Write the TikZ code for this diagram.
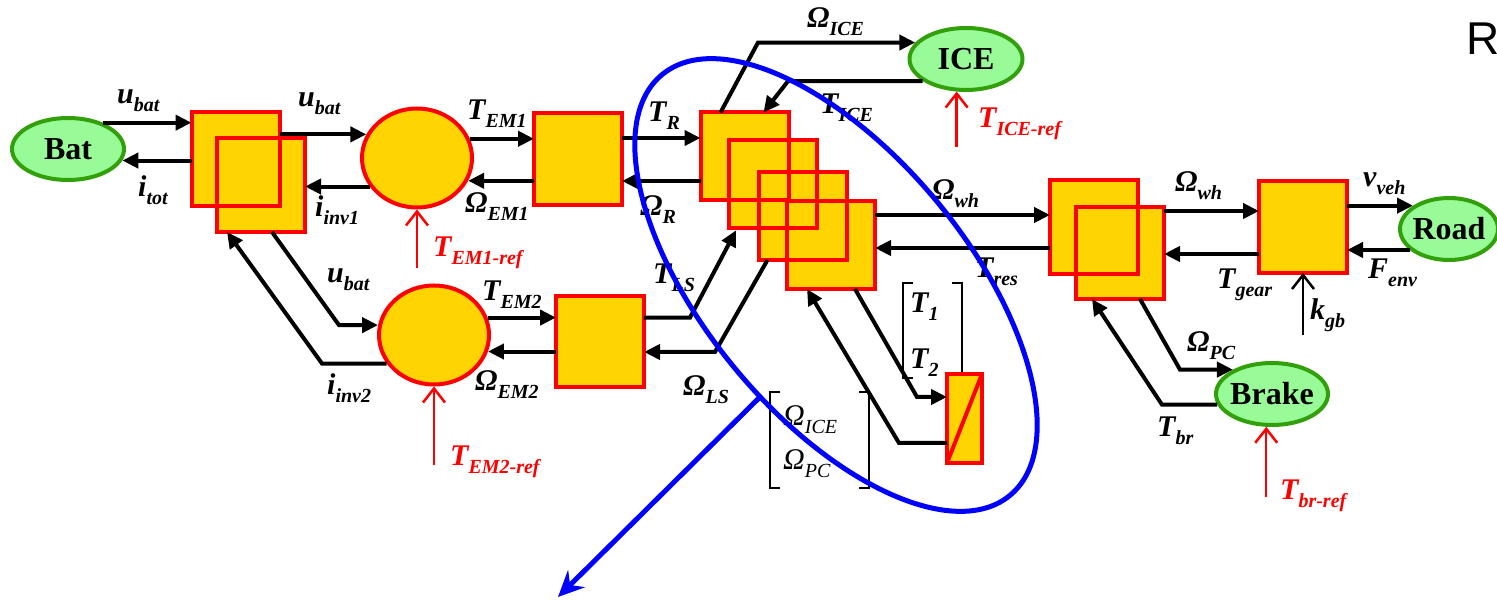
\documentclass[tikz,border=0pt]{standalone}
\usepackage{fontspec}
\setmainfont{Liberation Serif}
\newfontfamily\sansR{Liberation Sans}
\usetikzlibrary{arrows.meta,shapes.geometric,calc}
\definecolor{boxfill}{RGB}{255,212,0}
\definecolor{elfill}{RGB}{152,251,152}
\definecolor{elline}{RGB}{50,160,10}
\newcommand{\lb}[2]{#1\raisebox{-8pt}{\fontsize{20}{20}\selectfont #2}}
\begin{document}
\begin{tikzpicture}[x=1pt,y=-1pt,
  sq/.style={rectangle, fill=boxfill, inner sep=0pt, outer sep=0pt, minimum width=88pt, minimum height=92pt},
  cir/.style={ellipse, fill=boxfill, draw=red, line width=4pt, inner sep=0pt, minimum width=110pt, minimum height=99pt},
  oval/.style={ellipse, fill=elfill, draw=elline, line width=4pt, inner sep=0pt, minimum width=112pt, minimum height=62pt},
  ovtext/.style={font=\fontsize{32}{32}\selectfont\bfseries, inner sep=0pt},
  arr/.style={line width=4pt, -{Triangle[length=16pt,width=15pt]}},
  ref/.style={red, line width=2.5pt, -{Straight Barb[length=14pt,width=22pt]}},
  kref/.style={black, line width=2.5pt, -{Straight Barb[length=14pt,width=22pt]}},
  lab/.style={font=\fontsize{30}{30}\selectfont\bfseries\itshape, inner sep=0pt, anchor=west},
  rlab/.style={lab, text=red},
  mlab/.style={font=\fontsize{30}{30}\selectfont\itshape, inner sep=0pt, anchor=west},
  brk/.style={line width=1.6pt},
  redline/.style={draw=red, line width=4pt},
]
\useasboundingbox (0,0) rectangle (1497,601);

% ---------- square blocks (fills) ----------
\node[sq, minimum height=94pt] (b1a) at (235.5,159) {};
\node[sq, minimum height=94pt] (b1b) at (261,185) {};
\node[sq] (bem1) at (578,159) {};
\node[sq, minimum height=91pt] (bem2) at (600,341.5) {};
\node[sq, minimum height=88pt] (pg1) at (744.5,156.5) {};
\node[sq, minimum height=88pt] (pg2) at (773,184.5) {};
\node[sq, minimum height=88pt] (pg3) at (802.5,216) {};
\node[sq, minimum height=88pt] (pg4) at (831,245) {};
\node[sq, minimum height=94pt] (fda) at (1094,227) {};
\node[sq] (fdb) at (1120,253) {};
\node[sq] (gb) at (1303,227) {};
% borders on top of all fills
\foreach \n in {b1a,b1b,bem1,bem2,pg1,pg2,pg3,pg4,fda,fdb,gb}
  \draw[redline] (\n.south west) rectangle (\n.north east);

% ---------- electric machines ----------
\node[cir] (em1) at (417,158) {};
\node[cir] (em2) at (434,335) {};

% ---------- sources ----------
\node[oval] (bat) at (68,149) {};
\node[ovtext] at (bat) {Bat};
\node[oval, minimum width=113pt] (ice) at (966,59) {};
\node[ovtext] at (ice) {ICE};
\node[oval, minimum width=98pt] (road) at (1449,229) {};
\node[ovtext] at (road) {Road};
\node[oval] (brake) at (1272,394) {};
\node[ovtext] at (brake) {Brake};

% ---------- brackets ----------
\draw[brk] (913,283) -- (903,283) -- (903,378) -- (913,378);
\draw[brk] (952,283) -- (962,283) -- (962,376);
\draw[brk] (780,392) -- (770,392) -- (770,488) -- (780,488);
\draw[brk] (859,392) -- (869,392) -- (869,488) -- (859,488);

% ---------- clutch ----------
\node[sq, minimum width=35pt, minimum height=89pt] (cl) at (964.5,418.5) {};
\draw[redline] (cl.south west) rectangle (cl.north east);
\draw[redline] (cl.south west) -- (cl.north east);

% ---------- connectors ----------
\draw[arr] (bat.37) -- (bat.37 -| b1a.west);
\draw[arr] (b1a.west |- bat.-12) -- (bat.-12);
\draw[arr] (em1.155 -| b1a.east) -- (em1.155);
\draw[arr] (em1.211) -- (em1.211 -| b1b.east);
\draw[arr] (em1.20) -- (em1.20 -| bem1.west);
\draw[arr] (bem1.west |- em1.-24) -- (em1.-24);
\draw[arr] (bem1.east |- 0,138) -- (pg1.west |- 0,138);
\draw[arr] (pg1.west |- 0,181) -- (bem1.east |- 0,181);
\draw[arr] ([xshift=11pt]b1b.south) -- (em2.170 -| 339,0) -- (em2.170);
\draw[arr] (em2.211) -- (em2.211 -| 322,0) -- ([xshift=-34pt]b1b.south);
\draw[arr] (em2.18) -- (em2.18 -| bem2.west);
\draw[arr] (bem2.west |- em2.-17) -- (em2.-17);
\draw[arr, shorten >=2pt] (bem2.east |- em2.18) -- (em2.18 -| 690,0) -- ([xshift=8pt]pg2.south west);
\draw[arr] ([xshift=9pt]pg3.south west) -- (715,352) -- (bem2.east |- 0,352);
\draw[arr] ([xshift=-24pt]pg1.north) -- (ice.162 -| 758,0) -- (ice.162);
\draw[arr] (ice.207) -- (ice.207 -| 788,0) -- ([xshift=19pt]pg1.north);
\draw[arr] (pg4.east |- 0,215) -- (fda.west |- 0,215);
\draw[arr] (fda.west |- 0,248) -- (pg4.east |- 0,248);
\draw[arr] ([xshift=24pt]pg4.south) -- (917,397) -- (cl.west |- 0,397);
\draw[arr] (cl.west |- 0,443) -- (899,443) -- ([xshift=-24pt]pg4.south);
\draw[arr] (fdb.east |- 0,211) -- (gb.west |- 0,211);
\draw[arr] (gb.west |- 0,254) -- (fdb.east |- 0,254);
\draw[arr] (gb.east |- road.147) -- (road.147);
\draw[arr] (road.208) -- (road.208 -| gb.east);
\draw[arr] ([xshift=20pt]fdb.south) -- (brake.148 -| 1180,0) -- (brake.148);
\draw[arr] (brake.191) -- (brake.191 -| 1162,0) -- ([xshift=-28pt]fdb.south);
\draw[kref] (gb.south |- 0,335) -- (gb.south);

% ---------- reference inputs ----------
\draw[ref] (em1.south |- 0,268) -- (em1.south);
\draw[ref] (em2.south |- 0,465) -- (em2.south);
\draw[ref] (ice.-106 |- 0,147) -- (ice.-106);
\draw[ref] (brake.-100 |- 0,497) -- (brake.-100);

% ---------- labels ----------
\node[lab] (l1) at (117,101) {\lb{u}{bat}};
\node[lab] (l2) at (138,190) {\lb{i}{tot}};
\node[lab] (l3) at (298,104) {\lb{u}{bat}};
\node[lab] (l4) at (315,210) {\lb{i}{inv1}};
\node[lab] (l5) at (467,114) {\lb{T}{EM1}};
\node[lab] (l6) at (465,207) {\lb{Ω}{EM1}};
\node[rlab] (l7) at (433,253) {\lb{T}{EM1-ref}};
\node[lab] (l8) at (648,116) {\lb{T}{R}};
\node[lab] (l9) at (640,210) {\lb{Ω}{R}};
\node[lab] (l10) at (327,280) {\lb{u}{bat}};
\node[lab] (l11) at (482,295) {\lb{T}{EM2}};
\node[lab] (l12) at (475,385) {\lb{Ω}{EM2}};
\node[lab] (l13) at (327,388) {\lb{i}{inv2}};
\node[rlab] (l14) at (450,462) {\lb{T}{EM2-ref}};
\node[lab] (l15) at (653,278) {\lb{T}{LS}};
\node[lab] (l16) at (683,390) {\lb{Ω}{LS}};
\node[lab] (l17) at (807,22) {\lb{Ω}{ICE}};
\node[lab] (l18) at (820,108) {\lb{T}{ICE}};
\node[rlab] (l19) at (978,124) {\lb{T}{ICE-ref}};
\node[lab] (l20) at (932,194) {\lb{Ω}{wh}};
\node[lab] (l21) at (975,272) {\lb{T}{res}};
\node[lab] (l22) at (910,307) {\lb{T}{1}};
\node[lab] (l23) at (910,363) {\lb{T}{2}};
\node[mlab] (l24) at (783,420) {\lb{Ω}{ICE}};
\node[mlab] (l25) at (783,464) {\lb{Ω}{PC}};
\node[lab] (l26) at (1175,186) {\lb{Ω}{wh}};
\node[lab] (l27) at (1363,184) {\lb{v}{veh}};
\node[lab] (l28) at (1217,285) {\lb{T}{gear}};
\node[lab] (l29) at (1368,273) {\lb{F}{env}};
\node[lab] (l30) at (1310,315) {\lb{k}{gb}};
\node[lab] (l31) at (1187,346) {\lb{Ω}{PC}};
\node[lab] (l32) at (1157,431) {\lb{T}{br}};
\node[rlab] (l33) at (1280,496) {\lb{T}{br-ref}};
\node[font=\sansR\fontsize{46}{46}\selectfont, anchor=base west, inner sep=0pt] (rr) at (1466,55) {R};

% ---------- blue selection ----------
\draw[blue, line width=5pt, rotate around={-50.4:(836,285)}] (836,285) ellipse [x radius=273pt, y radius=131pt];
\coordinate (bs) at (760,397);
\coordinate (bt) at (558,597);
\draw[blue, line width=5pt, -{Stealth[length=26pt,width=24pt,inset=9pt]}] (bs) -- (bt);
\end{tikzpicture}
\end{document}
